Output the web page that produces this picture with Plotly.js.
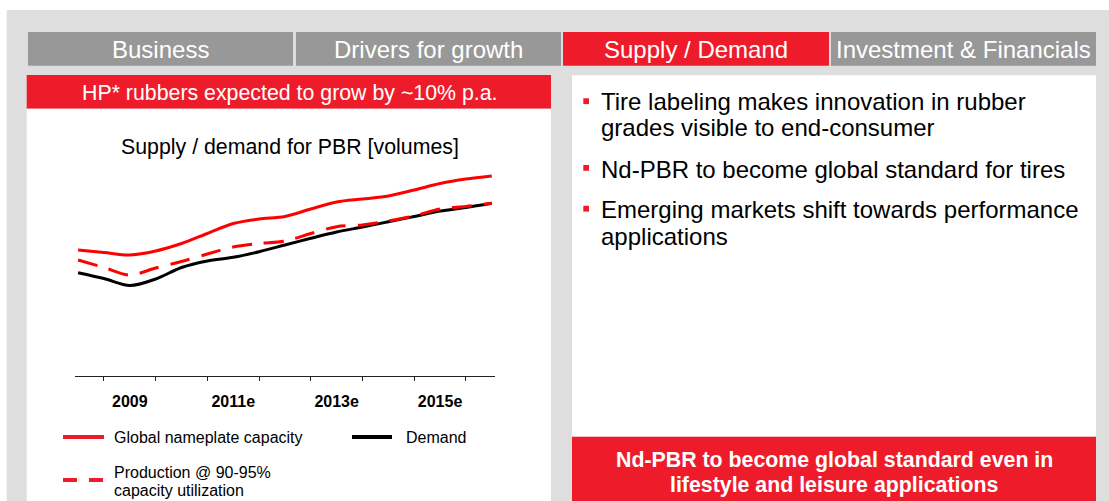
<!DOCTYPE html>
<html>
<head>
<meta charset="utf-8">
<script src="https://cdn.plot.ly/plotly-3.0.1.min.js"></script>
<style>
html,body{margin:0;padding:0;background:#fff;}
#chart{width:1109px;height:501px;}
</style>
</head>
<body>
<div id="chart"></div>
<script>
// ---- data ----
const years = [2008, 2008.5, 2009, 2009.5, 2010, 2010.5, 2011, 2011.5, 2012, 2012.5, 2013, 2013.5, 2014, 2014.5, 2015, 2015.5, 2016];
const capacity   = [126, 123.5, 121, 125, 132.5, 142.5, 152.5, 157, 159.5, 167, 174, 177, 180, 186, 192.5, 197, 200];
const production = [116, 108.5, 101, 108, 114.5, 122, 129, 132.5, 135, 142.5, 149.3, 151, 155, 160, 167, 169.5, 172.7];
const demand     = [103.3, 97.5, 90.5, 97, 108.5, 115, 118.7, 124.3, 131, 137.7, 144, 149, 154.3, 159.5, 165, 168.5, 172.7];
const tickYears  = [2009, 2011, 2013, 2015];
const tickLabels = ['2009', '2011e', '2013e', '2015e'];
const boundaryTicks = [2008.5, 2009.5, 2010.5, 2011.5, 2012.5, 2013.5, 2014.5, 2015.5];
const seriesNames = ['Global nameplate capacity', 'Production @ 90-95%<br>capacity utilization', 'Demand'];
const tabs = ['Business', 'Drivers for growth', 'Supply / Demand', 'Investment & Financials'];
const bullets = [
  ['Tire labeling makes innovation in rubber', 'grades visible to end-consumer'],
  ['Nd-PBR to become global standard for tires'],
  ['Emerging markets shift towards performance', 'applications']
];
const headline = 'HP* rubbers expected to grow by ~10% p.a.';
const chartTitle = 'Supply / demand for PBR [volumes]';
const conclusion = ['Nd-PBR to become global standard even in', 'lifestyle and leisure applications'];

// ---- geometry helpers ----
const W = 1109, H = 501;
const X = p => p / W;
const Y = p => 1 - p / H;
const FONT = 'Arial, "Liberation Sans", sans-serif';
const RED = '#ee1c2b', GRAY_TAB = '#989898', GRAY_BG = '#dedede';

const shapes = [];
const annotations = [];
function rect(x0, y0, x1, y1, color) {
  shapes.push({type: 'rect', xref: 'paper', yref: 'paper', x0: X(x0), x1: X(x1), y0: Y(y1), y1: Y(y0),
    fillcolor: color, line: {width: 0}, layer: 'below'});
}
function seg(x0, y0, x1, y1, color, width, dash) {
  shapes.push({type: 'line', xref: 'paper', yref: 'paper', x0: X(x0), x1: X(x1), y0: Y(y0), y1: Y(y1),
    line: {color: color, width: width, dash: dash || 'solid'}, layer: 'above'});
}
function txt(text, x, y, size, color, xanchor, bold) {
  annotations.push({text: bold ? '<b>' + text + '</b>' : text, xref: 'paper', yref: 'paper', x: X(x), y: Y(y),
    xanchor: xanchor, yanchor: 'middle', showarrow: false, borderpad: 0, borderwidth: 0,
    font: {family: FONT, size: size, color: color}});
}

// background slide
rect(6.7, 10, 1109, 501, GRAY_BG);
// tabs
const tabX = [[28, 293], [296, 561], [563, 829], [831, 1096]];
tabs.forEach((t, i) => {
  rect(tabX[i][0], 32, tabX[i][1], 65.7, i === 2 ? RED : GRAY_TAB);
  txt(t, (tabX[i][0] + tabX[i][1]) / 2, 49.5, 24, '#ffffff', 'center');
});
// left panel
rect(26.7, 75, 551, 108.7, RED);
txt(headline, 289.5, 92.5, 21.33, '#ffffff', 'center');
rect(26.7, 108.7, 551, 501, '#ffffff');
txt(chartTitle, 290, 147, 21.33, '#000000', 'center');
// right panel
rect(572, 75.3, 1096, 436.7, '#ffffff');
rect(572, 436.7, 1096, 501, RED);
const bulletY = [[101.3, 127.8], [169], [209.5, 236.5]];
const squareY = [98.3, 165, 205.8];
bullets.forEach((b, i) => {
  rect(583.3, squareY[i], 589, squareY[i] + 5.8, RED);
  b.forEach((line, j) => txt(line, 601, bulletY[i][j], 24, '#000000', 'left'));
});
txt(conclusion[0], 834, 459.5, 21.33, '#ffffff', 'center', true);
txt(conclusion[1], 834, 485, 21.33, '#ffffff', 'center', true);

// legend (drawn manually to match layout)
seg(63, 437, 104, 437, RED, 4);
txt(seriesNames[0], 114, 437, 16, '#000000', 'left');
seg(352, 437, 392, 437, '#000000', 4);
txt(seriesNames[2], 406, 437, 16, '#000000', 'left');
seg(63, 480, 104, 480, RED, 4, '14px,12px');
const prodLines = seriesNames[1].split('<br>');
txt(prodLines[0], 114, 472, 16, '#000000', 'left');
txt(prodLines[1], 114, 490.5, 16, '#000000', 'left');

// ---- traces ----
const lineShape = {shape: 'spline', smoothing: 0.9};
const traces = [
  {x: years, y: capacity, name: 'Global nameplate capacity', type: 'scatter', mode: 'lines',
   line: Object.assign({color: '#ff0000', width: 3}, lineShape)},
  {x: years, y: demand, name: 'Demand', type: 'scatter', mode: 'lines',
   line: Object.assign({color: '#000000', width: 3}, lineShape)},
  {x: years, y: production, name: 'Production @ 90-95% capacity utilization', type: 'scatter', mode: 'lines',
   line: Object.assign({color: '#ff0000', width: 3, dash: '20px,12px'}, lineShape)}
];

const x0px = 75, x1px = 495, axisPx = 376, topPx = 166;
const yearPx = 51.71, year0Px = 78.1;
const layout = {
  width: W, height: H,
  margin: {l: 0, r: 0, t: 0, b: 0, pad: 0},
  paper_bgcolor: '#ffffff',
  plot_bgcolor: 'rgba(0,0,0,0)',
  showlegend: false,
  xaxis: {
    domain: [X(x0px), X(x1px)],
    range: [2008 + (x0px - year0Px) / yearPx, 2008 + (x1px - year0Px) / yearPx],
    showgrid: false, zeroline: false,
    showline: true, linecolor: '#222222', linewidth: 1.3,
    tickmode: 'array', tickvals: tickYears, ticktext: tickLabels,
    ticks: '', ticklabelstandoff: 10,
    tickfont: {family: FONT, size: 16, color: '#000000', weight: 'bold'},
    minor: {tickmode: 'array', tickvals: boundaryTicks, ticks: 'outside', ticklen: 4, tickwidth: 1, tickcolor: '#222222', showgrid: false}
  },
  yaxis: {
    domain: [Y(axisPx), Y(topPx)],
    range: [0, axisPx - topPx],
    visible: false, showgrid: false, zeroline: false
  },
  shapes: shapes,
  annotations: annotations
};

Plotly.newPlot('chart', traces, layout, {displayModeBar: false, staticPlot: true});
</script>
</body>
</html>
